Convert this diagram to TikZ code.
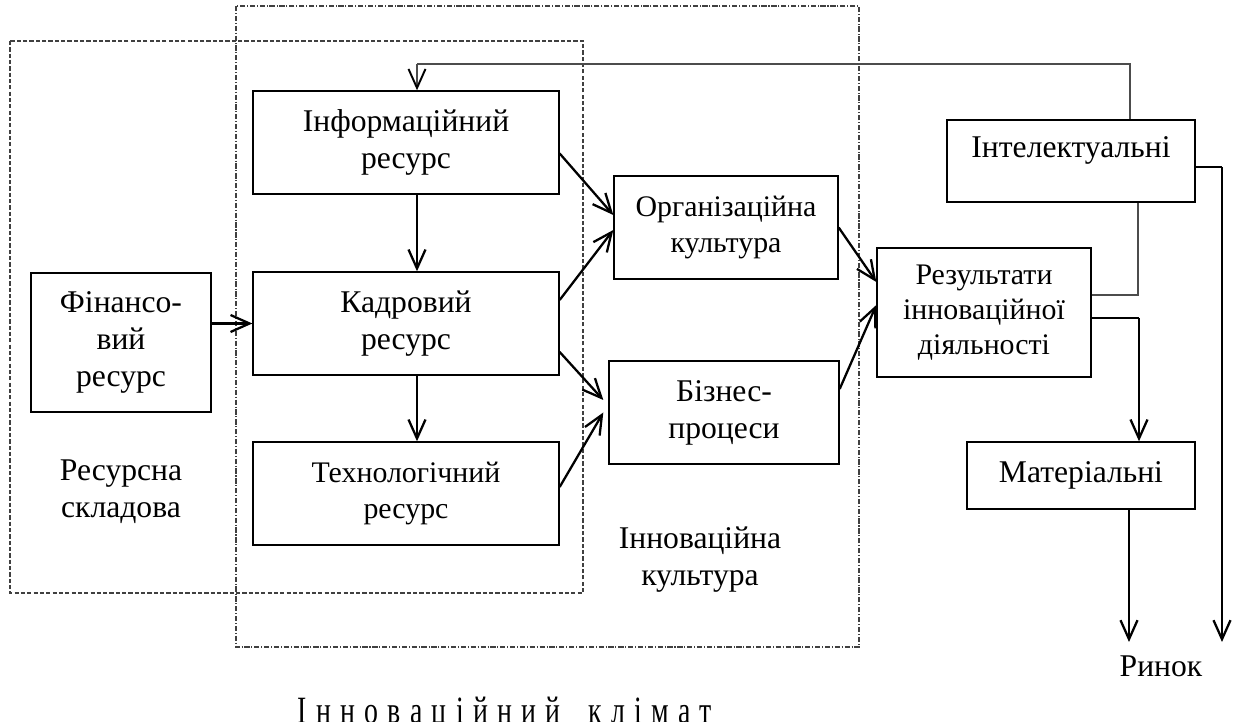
\documentclass[tikz,border=0pt]{standalone}
\usepackage{fontspec}
\setmainfont{Liberation Serif}
\usetikzlibrary{arrows.meta,positioning}

\begin{document}
\begin{tikzpicture}[x=0.02cm,y=-0.02cm,
  blok/.style={draw,line width=0.8pt,align=center,inner sep=0pt,font=\fontsize{18}{21}\selectfont},
  menshe/.style={font=\fontsize{17}{20}\selectfont},
  napys/.style={align=center,font=\fontsize{18}{21}\selectfont},
  strilka/.style={line width=1.3pt,-{Straight Barb[length=3.8mm,width=3.4mm]}},
  tonka/.style={draw=black!70,line width=0.7pt},
  shtrykh/.style={draw=black!75,line width=0.6pt,dash pattern=on 2.4pt off 1.2pt},
  punktyr/.style={draw=black!75,line width=0.6pt,dash pattern=on 3pt off 1pt on 0.6pt off 1pt}]
\useasboundingbox (0,0) rectangle (1238,722);

\draw[shtrykh] (10,41) rectangle (583,593);
\draw[punktyr] (236,6) rectangle (859,647);

\node[blok,minimum width=6.12cm,minimum height=2.06cm] (inf) at (406,142.5) {Інформаційний\\ресурс};
\node[blok,minimum width=6.12cm,minimum height=2.06cm] (kadr) at (406,323.5) {Кадровий\\ресурс};
\node[blok,menshe,minimum width=6.12cm,minimum height=2.06cm] (tekh) at (406,493.5) {Технологічний\\ресурс};
\node[blok,minimum width=3.6cm,minimum height=2.78cm] (fin) at (121,342.5) {Фінансо-\\вий\\ресурс};
\node[blok,menshe,minimum width=4.48cm,minimum height=2.06cm] (org) at (726,227.5) {Організаційна\\культура};
\node[blok,minimum width=4.6cm,minimum height=2.06cm] (biz) at (724,412.5) {Бізнес-\\процеси};
\node[blok,menshe,minimum width=4.28cm,minimum height=2.58cm] (rez) at (984,312.5) {Результати\\інноваційної\\діяльності};
\node[blok,minimum width=4.96cm,minimum height=1.64cm,text height=0.45cm,text depth=0.6cm] (intel) at (1071,161) {Інтелектуальні};
\node[blok,minimum width=4.56cm,minimum height=1.34cm] (mat) at (1081,475.5) {Матеріальні};

\node[napys] (resskl) at (121,492) {Ресурсна\\складова};
\node[napys] (innkult) at (700,560) {Інноваційна\\культура};
\node[napys,anchor=base,font=\fontsize{22}{24}\selectfont\addfontfeatures{FakeStretch=0.72,LetterSpace=6}] (klimat) at (505,724) {І н н о в а ц і й н и й \ \ к л і м а т};
\node[napys] (rynok) at (1161,666) {Ринок};

\coordinate (zv1) at (1130,64);
\coordinate (zv2) at (417,64);
\coordinate (rv) at (1138,295);
\coordinate (rn) at (1139,318);
\coordinate (iv) at (1222,167);
\coordinate (kin1) at (1129,642);
\coordinate (kin2) at (1222,642);

\draw[strilka] (fin.east |- kadr.west) -- (kadr.west);
\draw[strilka] ([xshift=0.22cm]inf.south) -- ([xshift=0.22cm]kadr.north);
\draw[strilka] ([xshift=0.22cm]kadr.south) -- ([xshift=0.22cm]tekh.north);
\draw[strilka] ([yshift=-0.22cm]inf.east) -- ([yshift=0.25cm]org.west);
\draw[strilka] ([yshift=0.47cm]kadr.east) -- ([yshift=-0.05cm]org.west);
\draw[strilka] ([yshift=-0.57cm]kadr.east) -- ([xshift=-0.1cm,yshift=0.25cm]biz.west);
\draw[strilka] ([yshift=0.13cm]tekh.east) -- ([xshift=-0.1cm]biz.west);
\draw[strilka] (org.east) -- ([yshift=0.61cm]rez.west);
\draw[strilka] ([yshift=0.47cm]biz.east) -- ([yshift=0.15cm]rez.west);

\draw[tonka] (zv1 |- intel.north) -- (zv1) -- (zv2);
\draw[tonka,-{Straight Barb[length=3.8mm,width=3.4mm,line width=1.1pt,color=black]}] (zv2) -- (zv2 |- inf.north);
\draw[tonka] (rez.east |- rv) -- (rv) -- (rv |- intel.south);
\draw[line width=0.8pt] (rez.east |- rn) -- (rn);
\draw[strilka] (rn) -- (rn |- mat.north);
\draw[line width=0.8pt] (intel.east |- iv) -- (iv);
\draw[strilka] (iv) -- (kin2);
\draw[strilka] (mat.south -| kin1) -- (kin1);
\end{tikzpicture}
\end{document}
